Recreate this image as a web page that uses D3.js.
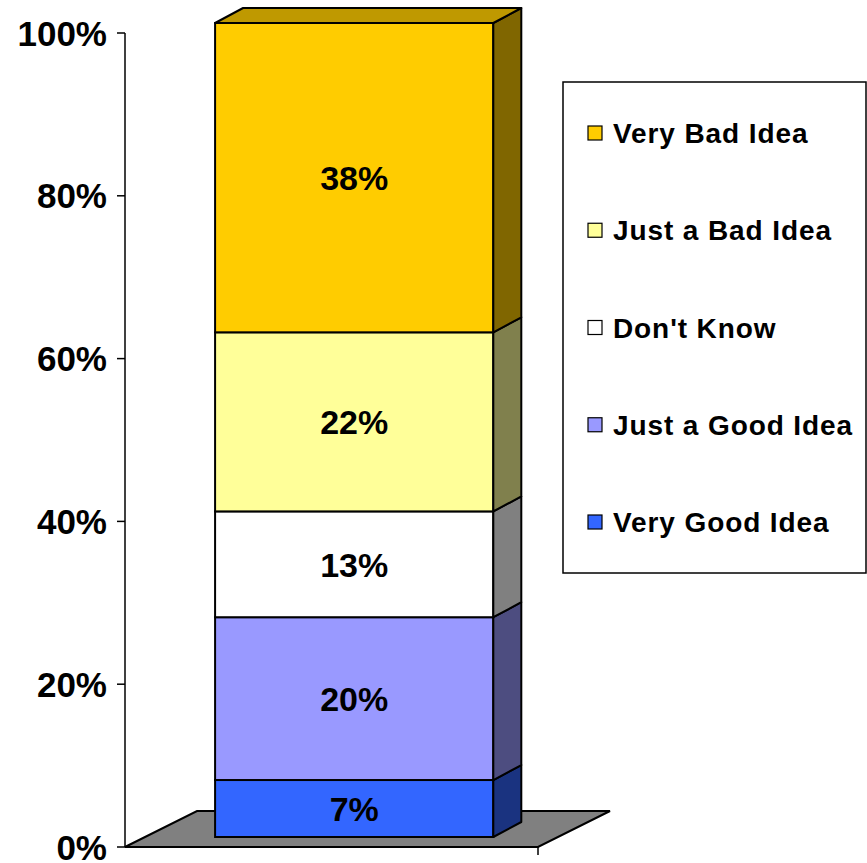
<!DOCTYPE html>
<html>
<head>
<meta charset="utf-8">
<script src="https://cdn.jsdelivr.net/npm/d3@7"></script>
<style>
  body { margin: 0; background: #fff; }
  text { font-family: "Liberation Sans", Arial, sans-serif; font-weight: bold; fill: #000; }
</style>
</head>
<body>
<svg id="chart" width="867" height="863"></svg>
<script>
// data
var categories = ["Very Good Idea", "Just a Good Idea", "Don't Know", "Just a Bad Idea", "Very Bad Idea"];
var values = [7, 20, 13, 22, 38];
var colors = ["#3366FF", "#9999FF", "#FFFFFF", "#FFFF99", "#FFCC00"];
var yTicks = [0, 20, 40, 60, 80, 100];
var groups = [""];

var svg = d3.select("#chart");

// plot geometry
var x0 = 125, x1 = 538, yBottom = 847, yTop = 33;
var floorDepth = [72, -36],   // full depth of the floor
    barFront = [20, -10],     // front face of the column within depth
    barBack = [48, -25];      // back face of the column

var y = d3.scaleLinear().domain([0, 100]).range([yBottom, yTop]);
var x = d3.scaleBand().domain(groups).range([x0, x1])
    .paddingInner(0.195).paddingOuter(0.195).align(0.52);

function shade(c, k) {
    var col = d3.rgb(c);
    return d3.rgb(col.r * k, col.g * k, col.b * k).toString();
}

// floor
svg.append("polygon")
    .attr("points", [[x0, yBottom], [x1, yBottom],
        [x1 + floorDepth[0], yBottom + floorDepth[1]],
        [x0 + floorDepth[0], yBottom + floorDepth[1]]].join(" "))
    .attr("fill", "#808080")
    .attr("stroke", "#000")
    .attr("stroke-width", 2);

// y axis
var yAxis = svg.append("g");
yAxis.append("line")
    .attr("x1", x0).attr("x2", x0)
    .attr("y1", y(100)).attr("y2", y(0))
    .attr("stroke", "#000").attr("stroke-width", 1.5);
yAxis.selectAll(".tick").data(yTicks).enter().append("line")
    .attr("x1", x0 - 8).attr("x2", x0)
    .attr("y1", function (d) { return y(d); })
    .attr("y2", function (d) { return y(d); })
    .attr("stroke", "#000").attr("stroke-width", 1.5);
yAxis.selectAll(".lbl").data(yTicks).enter().append("text")
    .attr("x", 107)
    .attr("y", function (d) { return y(d); })
    .attr("dy", "0.36em")
    .attr("text-anchor", "end")
    .style("font-size", "35px")
    .text(function (d) { return d + "%"; });

// x axis line + category tick
svg.append("line")
    .attr("x1", x0).attr("x2", x1)
    .attr("y1", yBottom).attr("y2", yBottom)
    .attr("stroke", "#000").attr("stroke-width", 2);
svg.append("line")
    .attr("x1", x1).attr("x2", x1)
    .attr("y1", yBottom).attr("y2", yBottom + 8)
    .attr("stroke", "#000").attr("stroke-width", 1.5);

// stacked segments
var stack = [], acc = 0;
values.forEach(function (v, i) {
    stack.push({ name: categories[i], v: v, y0: acc, y1: acc + v, color: colors[i] });
    acc += v;
});

var bx = x("") + barFront[0], bw = x.bandwidth();
var ddx = barBack[0] - barFront[0], ddy = barBack[1] - barFront[1];
function fy(v) { return y(v) + barFront[1]; }

var bars = svg.append("g");
var seg = bars.selectAll(".seg").data(stack).enter().append("g");

seg.append("rect")
    .attr("x", bx)
    .attr("y", function (d) { return fy(d.y1); })
    .attr("width", bw)
    .attr("height", function (d) { return fy(d.y0) - fy(d.y1); })
    .attr("fill", function (d) { return d.color; })
    .attr("stroke", "#000").attr("stroke-width", 2);

seg.append("polygon")
    .attr("points", function (d) {
        var r = bx + bw;
        return [[r, fy(d.y0)], [r + ddx, fy(d.y0) + ddy], [r + ddx, fy(d.y1) + ddy], [r, fy(d.y1)]].join(" ");
    })
    .attr("fill", function (d) { return shade(d.color, 0.5); })
    .attr("stroke", "#000").attr("stroke-width", 2)
    .attr("stroke-linejoin", "round");

// top face of the last segment
var topSeg = stack[stack.length - 1];
bars.append("polygon")
    .attr("points", [[bx, fy(topSeg.y1)], [bx + bw, fy(topSeg.y1)],
        [bx + bw + ddx, fy(topSeg.y1) + ddy], [bx + ddx, fy(topSeg.y1) + ddy]].join(" "))
    .attr("fill", shade(topSeg.color, 0.75))
    .attr("stroke", "#000").attr("stroke-width", 2)
    .attr("stroke-linejoin", "round");

seg.append("text")
    .attr("x", bx + bw / 2)
    .attr("y", function (d) { return (fy(d.y0) + fy(d.y1)) / 2; })
    .attr("dy", "0.36em")
    .attr("text-anchor", "middle")
    .style("font-size", "34px")
    .text(function (d) { return d.v + "%"; });

// legend
var legend = svg.append("g");
legend.append("rect")
    .attr("x", 563).attr("y", 82)
    .attr("width", 303).attr("height", 491)
    .attr("fill", "#fff")
    .attr("stroke", "#000").attr("stroke-width", 1.5);

var legY = d3.scalePoint().domain(categories.slice().reverse()).range([133, 522]);
var item = legend.selectAll(".item").data(stack.slice().reverse()).enter().append("g")
    .attr("transform", function (d) { return "translate(0," + legY(d.name) + ")"; });
item.append("rect")
    .attr("x", 588).attr("y", -7)
    .attr("width", 14).attr("height", 14)
    .attr("fill", function (d) { return d.color; })
    .attr("stroke", "#000").attr("stroke-width", 1.2);
item.append("text")
    .attr("x", 613)
    .attr("dy", "0.36em")
    .style("font-size", "28px")
    .style("letter-spacing", "0.9px")
    .text(function (d) { return d.name; });
</script>
</body>
</html>
